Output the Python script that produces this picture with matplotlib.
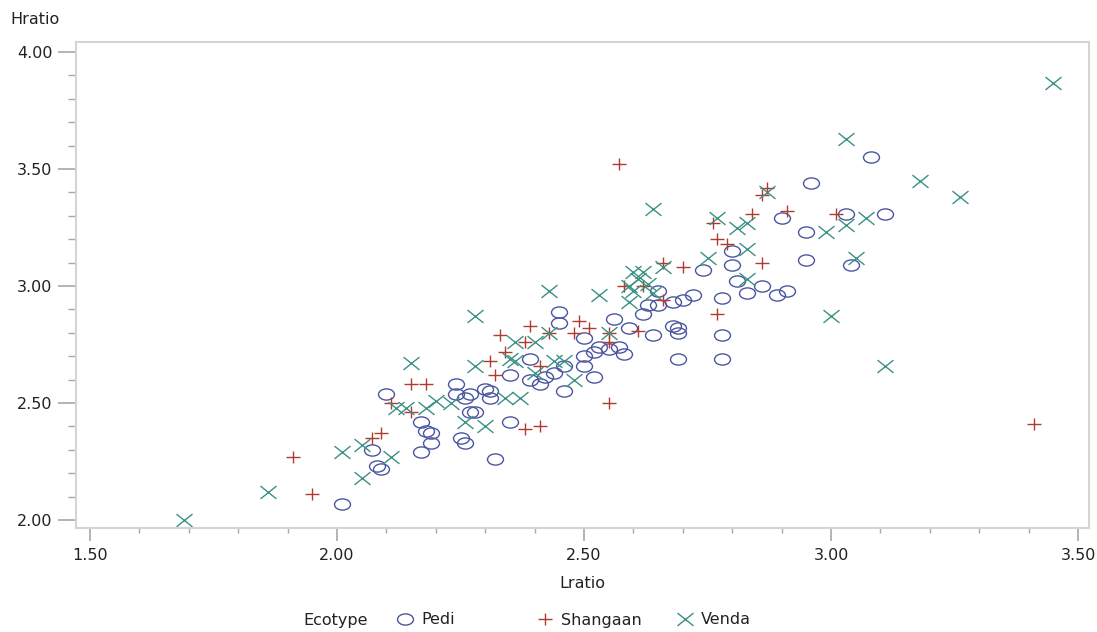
import matplotlib
matplotlib.use("Agg")
import matplotlib.pyplot as plt
from matplotlib.path import Path
from matplotlib.transforms import Affine2D
from matplotlib.lines import Line2D
import matplotlib.ticker as ticker

# values
pedi_x = [2.01, 2.07, 2.08, 2.09, 2.10, 2.17, 2.17, 2.18, 2.19, 2.19,
          2.24, 2.24, 2.25, 2.26, 2.26, 2.27, 2.27, 2.28, 2.30, 2.31,
          2.31, 2.32, 2.35, 2.35, 2.39, 2.39, 2.41, 2.42, 2.44, 2.46,
          2.45, 2.45, 2.46, 2.50, 2.50, 2.50, 2.52, 2.52, 2.53, 2.55,
          2.57, 2.56, 2.58, 2.59, 2.62, 2.63, 2.65, 2.65, 2.64, 2.68,
          2.68, 2.70, 2.72, 2.69, 2.69, 2.69, 2.74, 2.78, 2.78, 2.78,
          2.80, 2.80, 2.81, 2.83, 2.86, 2.89, 2.91, 2.90, 2.95, 2.95,
          2.96, 3.03, 3.04, 3.08, 3.11]
pedi_y = [2.07, 2.30, 2.23, 2.22, 2.54, 2.29, 2.42, 2.38, 2.37, 2.33,
          2.58, 2.54, 2.35, 2.33, 2.52, 2.54, 2.46, 2.46, 2.56, 2.55,
          2.52, 2.26, 2.62, 2.42, 2.69, 2.60, 2.58, 2.61, 2.63, 2.66,
          2.89, 2.84, 2.55, 2.70, 2.66, 2.78, 2.61, 2.72, 2.74, 2.73,
          2.74, 2.86, 2.71, 2.82, 2.88, 2.92, 2.92, 2.98, 2.79, 2.83,
          2.93, 2.94, 2.96, 2.82, 2.80, 2.69, 3.07, 2.95, 2.79, 2.69,
          3.09, 3.15, 3.02, 2.97, 3.00, 2.96, 2.98, 3.29, 3.23, 3.11,
          3.44, 3.31, 3.09, 3.55, 3.31]

shangaan_x = [1.91, 1.95, 2.07, 2.09, 2.11, 2.15, 2.15, 2.18, 2.31, 2.32,
              2.33, 2.34, 2.38, 2.39, 2.38, 2.41, 2.41, 2.43, 2.48, 2.49,
              2.51, 2.55, 2.55, 2.55, 2.57, 2.58, 2.61, 2.62, 2.66, 2.66,
              2.70, 2.76, 2.77, 2.79, 2.77, 2.84, 2.86, 2.87, 2.86, 2.91,
              3.01, 3.41]
shangaan_y = [2.27, 2.11, 2.35, 2.37, 2.50, 2.46, 2.58, 2.58, 2.68, 2.62,
              2.79, 2.72, 2.76, 2.83, 2.39, 2.40, 2.66, 2.80, 2.80, 2.85,
              2.82, 2.50, 2.80, 2.76, 3.52, 3.00, 2.81, 3.00, 2.94, 3.10,
              3.08, 3.27, 3.20, 3.18, 2.88, 3.31, 3.39, 3.42, 3.10, 3.32,
              3.31, 2.41]

venda_x = [1.69, 1.86, 2.01, 2.05, 2.05, 2.11, 2.12, 2.14, 2.15, 2.18,
           2.20, 2.23, 2.26, 2.28, 2.28, 2.30, 2.34, 2.35, 2.36, 2.36,
           2.37, 2.40, 2.40, 2.43, 2.43, 2.44, 2.46, 2.48, 2.53, 2.55,
           2.59, 2.59, 2.60, 2.60, 2.61, 2.62, 2.63, 2.64, 2.64, 2.66,
           2.75, 2.77, 2.81, 2.83, 2.83, 2.83, 2.87, 2.99, 3.00, 3.03,
           3.03, 3.05, 3.07, 3.11, 3.18, 3.26, 3.45]
venda_y = [2.00, 2.12, 2.29, 2.18, 2.32, 2.27, 2.48, 2.48, 2.67, 2.48,
           2.51, 2.50, 2.42, 2.87, 2.66, 2.40, 2.52, 2.69, 2.68, 2.76,
           2.52, 2.76, 2.63, 2.98, 2.80, 2.68, 2.68, 2.60, 2.96, 2.80,
           2.93, 3.00, 3.06, 2.98, 3.03, 3.06, 3.01, 2.97, 3.33, 3.08,
           3.12, 3.29, 3.25, 3.27, 3.16, 3.03, 3.40, 3.23, 2.87, 3.26,
           3.63, 3.12, 3.29, 2.66, 3.45, 3.38, 3.87]

groups = ["Pedi", "Shangaan", "Venda"]
colors = {"Pedi": "#4a57a0", "Shangaan": "#b03a2e", "Venda": "#3a9184"}


def squash(path, sy):
    # the reference is stretched sideways, so markers are a bit flat
    return path.transformed(Affine2D().scale(1, sy))


circle_m = squash(Path.unit_circle(), 0.7)
plus_m = squash(Path([(-1, 0), (1, 0), (0, -1), (0, 1)],
                     [Path.MOVETO, Path.LINETO, Path.MOVETO, Path.LINETO]), 0.8)
cross_m = squash(Path([(-1, -1), (1, 1), (-1, 1), (1, -1)],
                      [Path.MOVETO, Path.LINETO, Path.MOVETO, Path.LINETO]), 0.8)
markers = {"Pedi": (circle_m, 11.5), "Shangaan": (plus_m, 10.5), "Venda": (cross_m, 11.5)}

data = {"Pedi": (pedi_x, pedi_y),
        "Shangaan": (shangaan_x, shangaan_y),
        "Venda": (venda_x, venda_y)}

plt.rcParams['font.family'] = ['DejaVu Sans']
text_color = "#222222"

fig = plt.figure(figsize=(10.97, 6.32), dpi=100)
ax = fig.add_axes([0.0693, 0.1646, 0.9234, 0.7689])

for g in groups:
    m, ms = markers[g]
    xs, ys = data[g]
    ax.plot(xs, ys, linestyle='none', marker=m, markersize=ms,
            markerfacecolor='none', markeredgecolor=colors[g],
            markeredgewidth=1.0, label=g)

ax.set_xlim(1.4717, 3.522)
ax.set_ylim(1.966, 4.043)

ax.xaxis.set_major_locator(ticker.MultipleLocator(0.5))
ax.xaxis.set_minor_locator(ticker.MultipleLocator(0.1))
ax.yaxis.set_major_locator(ticker.MultipleLocator(0.5))
ax.yaxis.set_minor_locator(ticker.MultipleLocator(0.1))
ax.xaxis.set_major_formatter(ticker.FormatStrFormatter('%.2f'))
ax.yaxis.set_major_formatter(ticker.FormatStrFormatter('%.2f'))

tick_gray = "#a8a8a8"
ax.tick_params(axis='x', which='major', length=9.5, width=1.2, color=tick_gray,
               labelsize=11.5, labelcolor=text_color, pad=5)
ax.tick_params(axis='x', which='minor', length=3.8, width=1.0, color=tick_gray)
ax.tick_params(axis='y', which='major', length=13, width=1.2, color=tick_gray,
               labelsize=11.5, labelcolor=text_color, pad=4)
ax.tick_params(axis='y', which='minor', length=6, width=1.0, color=tick_gray)

for s in ax.spines.values():
    s.set_color("#d4d4d4")
    s.set_linewidth(1.5)

ax.set_xlabel("Lratio", fontsize=11.5, color=text_color, labelpad=9)
fig.text(10 / 1097, 1 - 20 / 632, "Hratio", fontsize=11.5, color=text_color,
         ha='left', va='center')

# legend row along the bottom: title then one entry per group
leg_y = 1 - 620 / 632
fig.text(303 / 1097, leg_y, "Ecotype", fontsize=11.5, color=text_color,
         ha='left', va='center')
leg_x = {"Pedi": 397 / 1097, "Shangaan": 537 / 1097, "Venda": 677 / 1097}
for g in groups:
    m, ms = markers[g]
    h = Line2D([], [], linestyle='none', marker=m, markersize=ms,
               markerfacecolor='none', markeredgecolor=colors[g], markeredgewidth=1.0)
    fig.legend([h], [g], loc='center left', bbox_to_anchor=(leg_x[g], leg_y),
               frameon=False, fontsize=11.5, handlelength=1.0, handletextpad=0.5,
               borderpad=0, borderaxespad=0, labelcolor=text_color)

plt.savefig("out.png", dpi=100)
